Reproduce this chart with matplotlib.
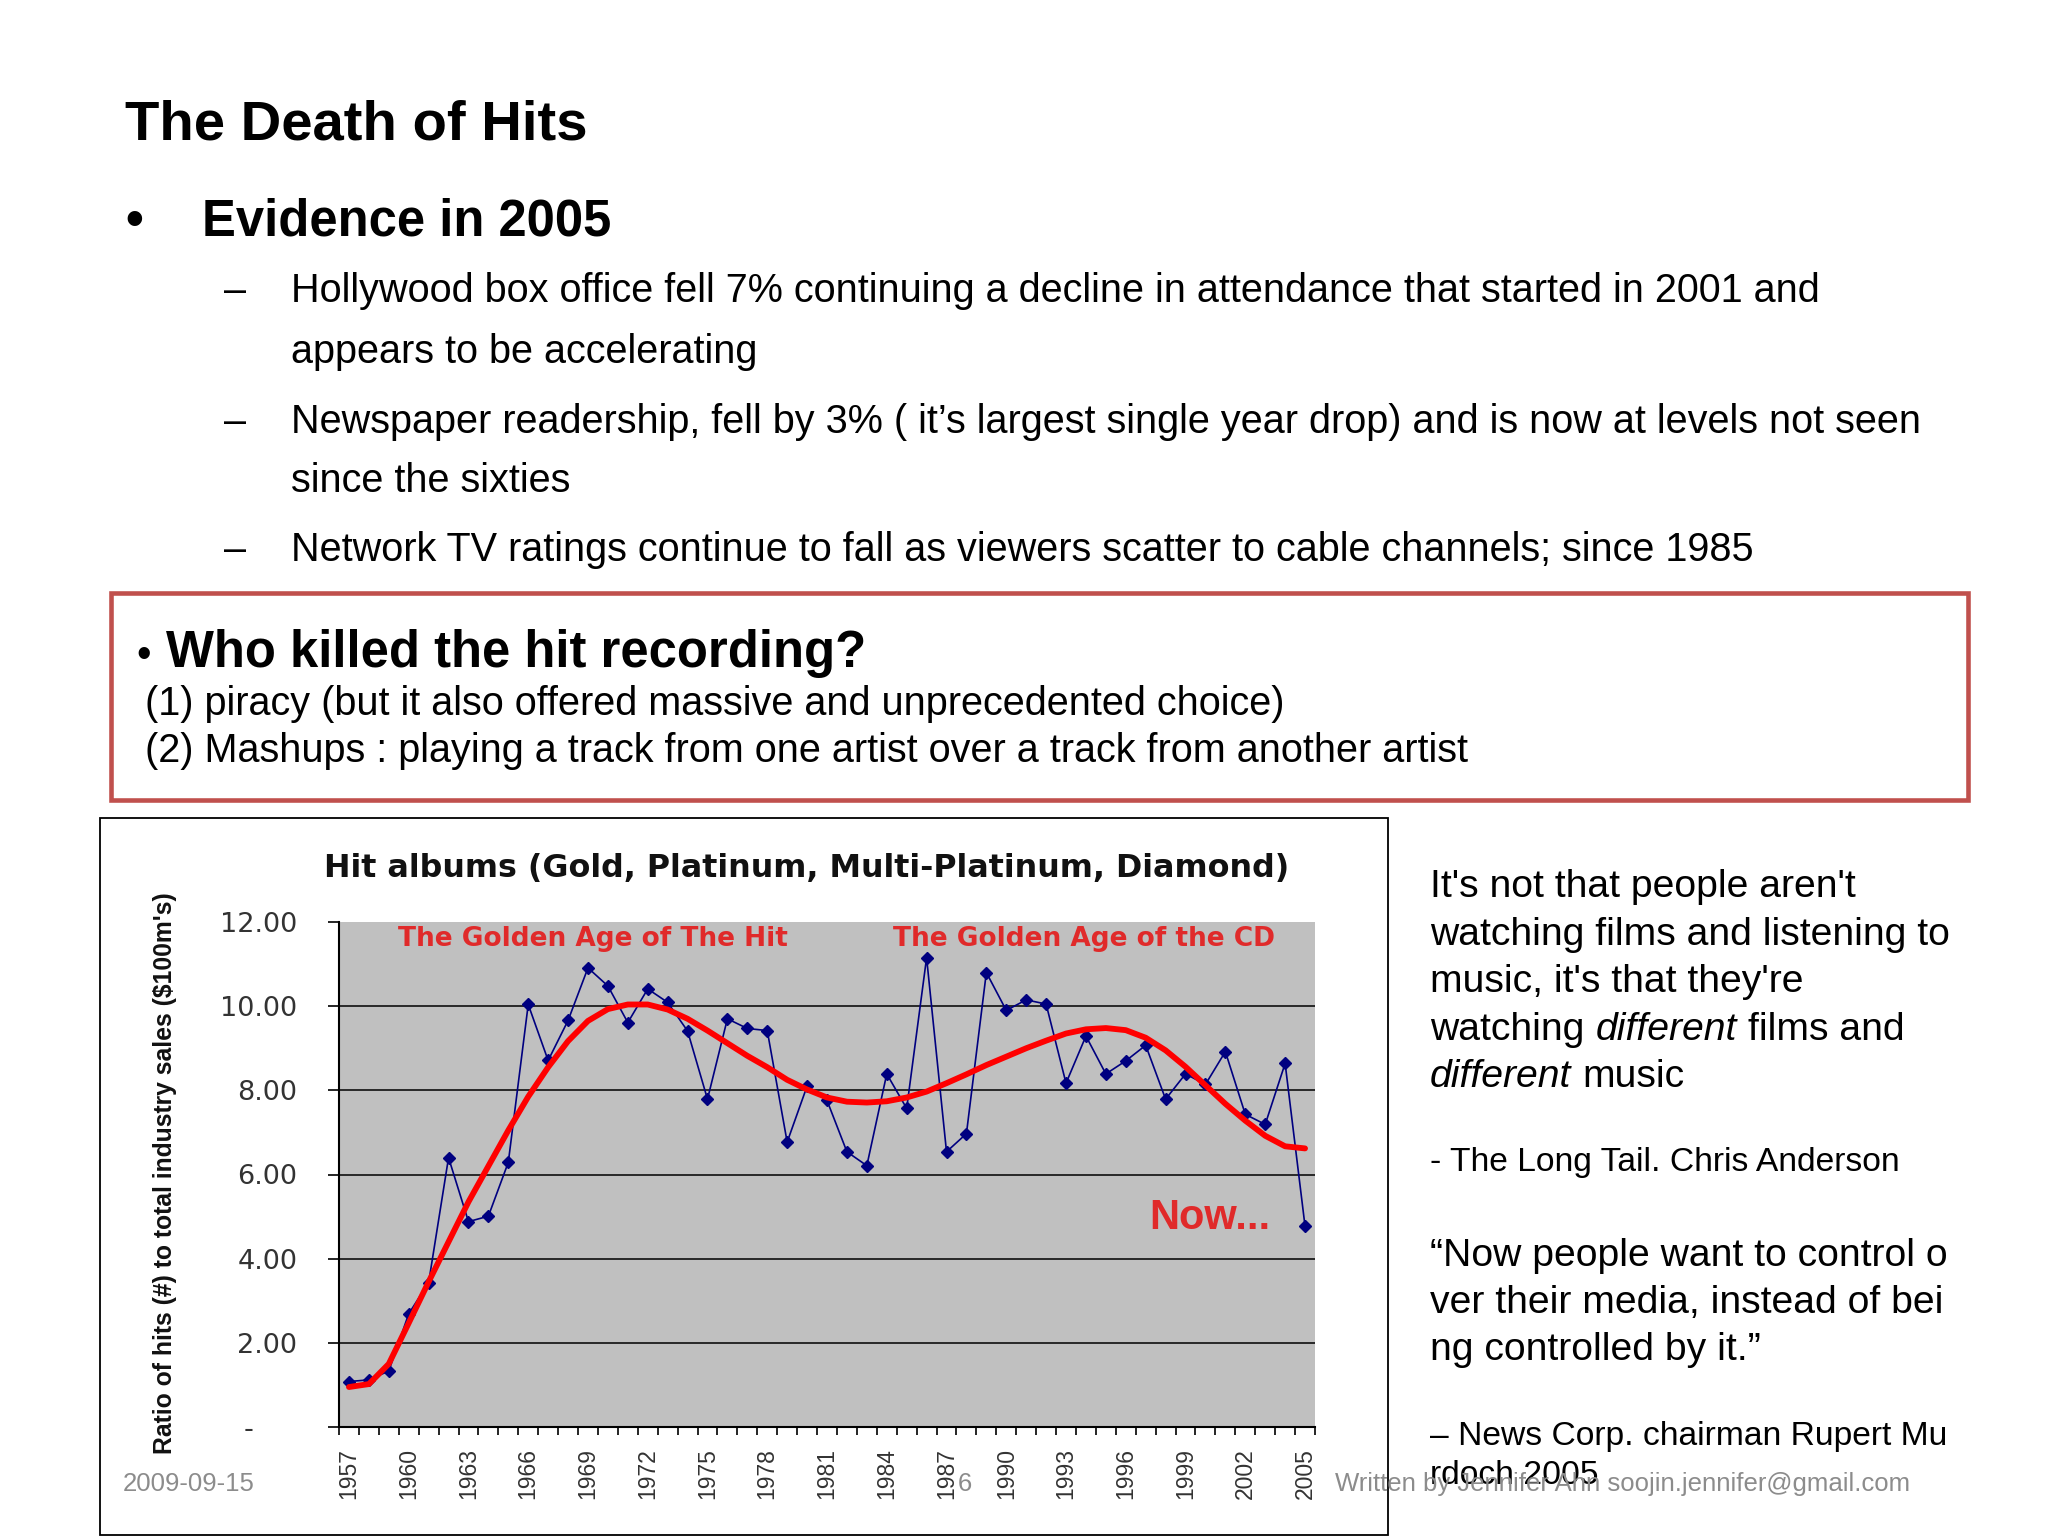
import numpy as np
import matplotlib
matplotlib.use("Agg")
import matplotlib.pyplot as plt
from matplotlib.patches import Rectangle

# data
years = list(range(1957, 2006))
hits = [1.08, 1.12, 1.33, 2.69, 3.43, 6.40, 4.88, 5.01, 6.29, 10.04,
        8.71, 9.66, 10.91, 10.48, 9.61, 10.41, 10.09, 9.41, 7.79, 9.70,
        9.47, 9.42, 6.77, 8.10, 7.76, 6.54, 6.21, 8.39, 7.57, 11.15,
        6.54, 6.97, 10.80, 9.90, 10.15, 10.05, 8.17, 9.29, 8.39, 8.70,
        9.07, 7.79, 8.39, 8.14, 8.92, 7.43, 7.19, 8.64, 4.77]
trend = [0.95, 1.02, 1.50, 2.47, 3.45, 4.40, 5.35, 6.20, 7.05, 7.85,
         8.55, 9.17, 9.65, 9.93, 10.04, 10.04, 9.92, 9.70, 9.42, 9.12,
         8.82, 8.55, 8.25, 8.02, 7.83, 7.73, 7.71, 7.74, 7.83, 7.97,
         8.17, 8.38, 8.60, 8.80, 9.00, 9.18, 9.35, 9.45, 9.48, 9.43,
         9.25, 8.95, 8.56, 8.12, 7.68, 7.28, 6.92, 6.67, 6.62]
ytick_vals = [0, 2, 4, 6, 8, 10, 12]
ytick_labels = ['-     ', '2.00', '4.00', '6.00', '8.00', '10.00', '12.00']
label_years = years[::3]

bullets = ["Hollywood box office fell 7% continuing a decline in attendance that started in 2001 and",
           "appears to be accelerating",
           "Newspaper readership, fell by 3% ( it\u2019s largest single year drop) and is now at levels not seen",
           "since the sixties",
           "Network TV ratings continue to fall as viewers scatter to cable channels; since 1985"]

W, H = 2048, 1536
def fx(x):
    return x / W
def fy(y):
    return 1 - y / H

SANS = 'Liberation Sans'

fig = plt.figure(figsize=(20.48, 15.36), dpi=100, facecolor='white')

# ---- slide text
fig.text(fx(125), fy(140), "The Death of Hits", family=SANS, weight='bold', size=40.5, va='baseline')
fig.text(fx(125), fy(236), "\u2022", family=SANS, weight='bold', size=36.5, va='baseline')
fig.text(fx(202), fy(236), "Evidence in 2005", family=SANS, weight='bold', size=36.5, va='baseline')
for yb in [302, 433, 561]:
    fig.text(fx(224), fy(yb), "\u2013", family=SANS, size=28.5, va='baseline')
for s, yb in zip(bullets, [302, 363, 433, 492, 561]):
    fig.text(fx(291), fy(yb), s, family=SANS, size=28.5, va='baseline')

# red box
fig.add_artist(Rectangle((fx(111), fy(800)), (1968 - 111) / W, (800 - 593) / H,
                         transform=fig.transFigure, fill=False, edgecolor='#C0504D', lw=3.3))
fig.text(fx(136), fy(667), "\u2022", family=SANS, size=30, va='baseline')
fig.text(fx(166), fy(667), "Who killed the hit recording?", family=SANS, weight='bold', size=36.5, va='baseline')
fig.text(fx(145), fy(715), "(1) piracy (but it also offered massive and unprecedented choice)",
         family=SANS, size=28.5, va='baseline')
fig.text(fx(145), fy(762), "(2) Mashups : playing a track from one artist over a track from another artist",
         family=SANS, size=28.5, va='baseline')

# ---- chart picture frame
fig.add_artist(Rectangle((fx(100), fy(1535)), (1388 - 100) / W, (1535 - 818) / H,
                         transform=fig.transFigure, facecolor='white', edgecolor='black', lw=1.3, zorder=-1))

ax = fig.add_axes([fx(339), fy(1427), (1315 - 339) / W, (1427 - 922) / H])
ax.set_facecolor('#C0C0C0')
x = np.arange(len(years))
ax.hlines(ytick_vals[1:-1], -0.5, len(years) - 0.5, color='black', lw=1.1, zorder=1)
ax.plot(x, hits, color='#000080', lw=1.2, marker='D', ms=6.5, zorder=3)
ax.plot(x, trend, color='#FF0000', lw=4.2, zorder=4, solid_capstyle='round')
ax.set_xlim(-0.5, len(years) - 0.5)
ax.set_ylim(0, 12)
for side in ['top', 'right']:
    ax.spines[side].set_visible(False)
for side in ['left', 'bottom']:
    ax.spines[side].set_linewidth(1.5)
ax.set_yticks(ytick_vals)
ax.set_yticklabels(ytick_labels, family='DejaVu Sans', size=19.5, color='#333333')
ax.tick_params(axis='y', length=8, width=1.2, pad=22)
ax.set_xticks(np.arange(-0.5, len(years)))
ax.set_xticklabels([])
ax.tick_params(axis='x', which='major', length=6, width=1.2)
ax.set_xticks([years.index(yr) for yr in label_years], minor=True)
ax.set_xticklabels([str(yr) for yr in label_years], minor=True, family=SANS, size=16.5, color='#333333')
ax.tick_params(axis='x', which='minor', length=0, pad=15, labelrotation=90)

fig.text(fx(807), fy(877), "Hit albums (Gold, Platinum, Multi-Platinum, Diamond)",
         family='DejaVu Sans', weight='bold', size=22.9, ha='center', va='baseline', color='#111111')
fig.text(fx(165), fy(1173), "Ratio of hits (#) to total industry sales ($100m's)", family=SANS,
         weight='bold', size=17.8, rotation=90, ha='center', va='center', color='#111111')
red_txt = '#E02A2A'
fig.text(fx(593), fy(946), "The Golden Age of The Hit", family='DejaVu Sans', weight='bold',
         size=19, ha='center', va='baseline', color=red_txt)
fig.text(fx(1084), fy(946), "The Golden Age of the CD", family='DejaVu Sans', weight='bold',
         size=19, ha='center', va='baseline', color=red_txt)
fig.text(fx(1210), fy(1229), "Now...", family=SANS, weight='bold', size=30,
         ha='center', va='baseline', color=red_txt)

# ---- right column quotes
r = fig.canvas.get_renderer()
def runs(xp, yb, parts, size):
    sp = fig.text(0, 0, "a a", family=SANS, size=size)
    nsp = fig.text(0, 0, "aa", family=SANS, size=size)
    space = sp.get_window_extent(r).width - nsp.get_window_extent(r).width
    sp.remove()
    nsp.remove()
    cur = xp
    for s, style in parts:
        t = fig.text(fx(cur), fy(yb), s, family=SANS, style=style, size=size, va='baseline')
        cur += t.get_window_extent(r).width + space

runs(1430, 897, [("It's not that people aren't", 'normal')], 28.2)
runs(1430, 945, [("watching films and listening to", 'normal')], 28.2)
runs(1430, 992, [("music, it's that they're", 'normal')], 28.2)
runs(1430, 1040, [("watching", 'normal'), ("different", 'italic'), ("films and", 'normal')], 28.2)
runs(1430, 1087, [("different", 'italic'), ("music", 'normal')], 28.2)
fig.text(fx(1430), fy(1171), "- The Long Tail. Chris Anderson", family=SANS, size=24.2, va='baseline')
fig.text(fx(1430), fy(1266), "\u201cNow people want to control o", family=SANS, size=28.2, va='baseline')
fig.text(fx(1430), fy(1313), "ver their media, instead of bei", family=SANS, size=28.2, va='baseline')
fig.text(fx(1430), fy(1360), "ng controlled by it.\u201d", family=SANS, size=28.2, va='baseline')
fig.text(fx(1430), fy(1445), "\u2013 News Corp. chairman Rupert Mu", family=SANS, size=24.2, va='baseline')
fig.text(fx(1430), fy(1484), "rdoch 2005", family=SANS, size=24.2, va='baseline')

# ---- footer
grey = '#8C8C8C'
fig.text(fx(123), fy(1491), "2009-09-15", family=SANS, size=18.5, color=grey, va='baseline')
fig.text(fx(958), fy(1491), "6", family=SANS, size=18.5, color=grey, va='baseline')
fig.text(fx(1335), fy(1491), "Written by Jennifer Ahn soojin.jennifer@gmail.com", family=SANS,
         size=18.5, color=grey, va='baseline')

fig.savefig('out.png', dpi=100, facecolor='white')
